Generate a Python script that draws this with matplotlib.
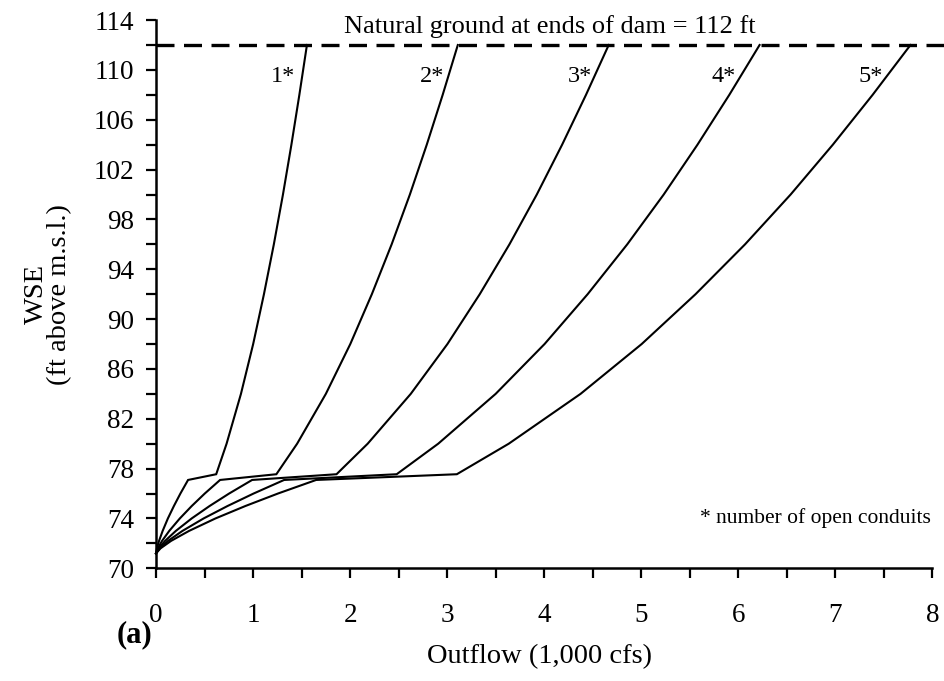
# python3

import matplotlib
matplotlib.use('Agg')
import matplotlib.pyplot as plt
from matplotlib.ticker import MultipleLocator

# water surface elevation levels (ft above m.s.l.) shared by every rating curve
wse = [71.2, 71.6, 72.2, 73.0, 74.0, 75.0, 76.0, 77.09, 77.55,
       80, 84, 88, 92, 96, 100, 104, 108, 112]

# outflow (1,000 cfs) at each level, one list per number of open conduits
outflow_1 = [0, 0.009, 0.031, 0.068, 0.122, 0.184, 0.251, 0.33, 0.62,
             0.727, 0.875, 1.001, 1.112, 1.214, 1.308, 1.395, 1.477, 1.555]
outflow_2 = [0, 0.018, 0.062, 0.136, 0.245, 0.368, 0.502, 0.66, 1.24,
             1.454, 1.75, 2.002, 2.224, 2.428, 2.616, 2.79, 2.954, 3.11]
outflow_3 = [0, 0.027, 0.093, 0.204, 0.367, 0.552, 0.753, 0.99, 1.86,
             2.181, 2.625, 3.003, 3.336, 3.642, 3.924, 4.185, 4.431, 4.665]
outflow_4 = [0, 0.037, 0.124, 0.272, 0.49, 0.737, 1.005, 1.32, 2.48,
             2.908, 3.5, 4.004, 4.448, 4.856, 5.232, 5.58, 5.908, 6.22]
outflow_5 = [0, 0.046, 0.155, 0.34, 0.612, 0.921, 1.256, 1.65, 3.10,
             3.635, 4.375, 5.005, 5.56, 6.07, 6.54, 6.975, 7.385, 7.775]

curves = [outflow_1, outflow_2, outflow_3, outflow_4, outflow_5]
curve_labels = ['1*', '2*', '3*', '4*', '5*']
label_x = [1.31, 2.84, 4.37, 5.85, 7.36]
label_y = 109.45

ground_level = 112
y_ticks = list(range(70, 115, 4))

plt.rcParams['font.family'] = ['Liberation Serif', 'DejaVu Serif']
plt.rcParams['font.size'] = 19

fig = plt.figure(figsize=(9.44, 6.81), dpi=100)
ax = fig.add_axes([0.1653, 0.1655, 0.8223, 0.805])

for q in curves:
    ax.plot(q, wse, color='black', lw=1.5, clip_on=False, solid_joinstyle='miter')

# natural ground line runs past the end of the axis
ax.plot([0, 8.12], [ground_level, ground_level], color='black', lw=2.4,
        dashes=(5.4, 2.85), clip_on=False)
ax.text(4.06, 112.95, 'Natural ground at ends of dam = 112 ft',
        ha='center', va='baseline', fontsize=19)

for lab, x in zip(curve_labels, label_x):
    ax.text(x, label_y, lab, ha='center', va='center', fontsize=17.5)

ax.text(7.99, 74.0, '* number of open conduits', ha='right', va='center',
        fontsize=15.5)

ax.set_xlim(0, 8)
ax.set_ylim(70, 114)
ax.xaxis.set_major_locator(MultipleLocator(1))
ax.xaxis.set_minor_locator(MultipleLocator(0.5))
ax.set_yticks(y_ticks)
ax.yaxis.set_minor_locator(MultipleLocator(2))

for side in ['top', 'right']:
    ax.spines[side].set_visible(False)
for side in ['left', 'bottom']:
    ax.spines[side].set_linewidth(1.8)

ax.tick_params(axis='both', which='both', direction='out', length=7, width=1.6,
               labelsize=19.5)
ax.tick_params(axis='x', which='major', pad=18)
ax.tick_params(axis='y', which='major', pad=9)

ax.set_xlabel('Outflow (1,000 cfs)', fontsize=20.5)
ax.xaxis.label.set_va('center')
ax.xaxis.set_label_coords(0.494, -0.162)

ax.set_ylabel('WSE\n(ft above m.s.l.)', fontsize=20.5, linespacing=0.92)
ax.yaxis.label.set_va('center')
ax.yaxis.set_label_coords(-0.139, 0.5)

fig.text(0.143, 0.068, '(a)', ha='center', va='center', fontweight='bold',
         fontsize=22)

fig.savefig('out.png', dpi=100)
